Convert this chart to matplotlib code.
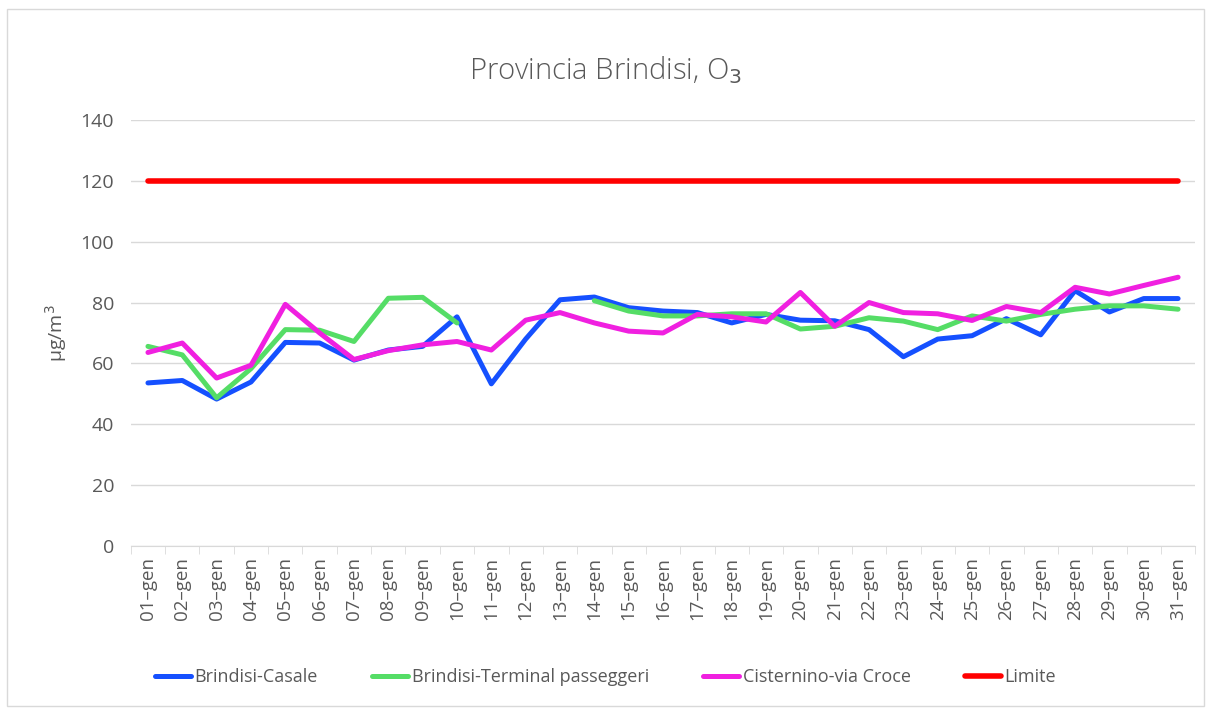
import numpy as np
import matplotlib.pyplot as plt
from matplotlib.patches import Rectangle

# --------------------------------------------------
# dati
# --------------------------------------------------
days = [f'{d:02d}–gen' for d in range(1, 32)]

casale = [53.6, 54.4, 48.3, 53.9, 66.9, 66.7, 61.1, 64.4, 65.6, 75.3,
          53.3, 68.0, 80.9, 81.8, 78.3, 77.2, 76.7, 73.3, 76.1, 74.2,
          74.0, 71.1, 62.2, 68.0, 69.1, 74.7, 69.4, 83.9, 76.9, 81.3, 81.3]
terminal = [65.6, 62.8, 48.7, 58.3, 71.1, 70.9, 67.2, 81.4, 81.7, 73.3,
            np.nan, np.nan, np.nan, 80.6, 77.2, 75.6, 75.6, 76.3, 76.3, 71.3,
            72.2, 75.0, 73.9, 71.1, 75.6, 73.9, 76.1, 77.8, 78.9, 78.9, 77.8]
cisternino = [63.6, 66.7, 55.2, 59.4, 79.4, 70.0, 61.3, 64.2, 66.1, 67.2,
              64.4, 74.2, 76.7, 73.3, 70.6, 70.0, 76.1, 75.3, 73.6, 83.3,
              72.2, 80.0, 76.7, 76.3, 74.1, 78.7, 76.7, 85.0, 82.8, 85.6, 88.3]
limite = [120] * 31

series = [
    ('Brindisi-Casale', casale, '#1550ff'),
    ('Brindisi-Terminal passeggeri', terminal, '#55dd66'),
    ('Cisternino-via Croce', cisternino, '#f020e0'),
    ('Limite', limite, '#ff0000'),
]

# --------------------------------------------------
# grafico
# --------------------------------------------------
plt.rcParams['font.family'] = ['Open Sans', 'DejaVu Sans']
fig = plt.figure(figsize=(12.11, 7.13), dpi=100)
ax = fig.add_axes([0.108, 0.234, 0.879, 0.598])

x = np.arange(len(days))
for name, vals, col in series:
    ax.plot(x, vals, color=col, lw=3.6 if name != 'Limite' else 4.0,
            label=name, solid_capstyle='round', solid_joinstyle='round')

ax.set_xlim(-0.5, len(days) - 0.5)
ax.set_ylim(0, 140)
ax.set_yticks(range(0, 141, 20))
ax.grid(axis='y', color='#d9d9d9', lw=1)
ax.set_axisbelow(True)

ax.set_xticks(x)
ax.set_xticklabels(days, rotation=90, fontsize=13.5, color='#595959')
ax.set_xticks(np.arange(-0.5, len(days)), minor=True)
ax.tick_params(axis='x', which='major', length=0, pad=8)
ax.tick_params(axis='x', which='minor', length=6, color='#d9d9d9')
ax.tick_params(axis='y', length=0, labelsize=14, labelcolor='#595959', pad=12)

for s in ['top', 'right', 'left']:
    ax.spines[s].set_visible(False)
ax.spines['bottom'].set_color('#d9d9d9')

ax.set_ylabel('µg/m$^3$', fontsize=14, color='#595959', labelpad=8)
fig.text(0.5, 0.902, 'Provincia Brindisi, O$_3$', ha='center', va='center',
         fontsize=21, color='#595959', fontweight='light')

leg = fig.legend(loc='center', bbox_to_anchor=(0.5, 0.05), ncol=4, frameon=False,
                 fontsize=13, handlelength=2.0, columnspacing=3.0, handletextpad=0.2)
for t in leg.get_texts():
    t.set_color('#595959')

fig.patches.append(Rectangle((0.006, 0.01), 0.988, 0.978, transform=fig.transFigure,
                             fill=False, edgecolor='#d9d9d9', lw=1))

fig.savefig('out.png', dpi=100)
